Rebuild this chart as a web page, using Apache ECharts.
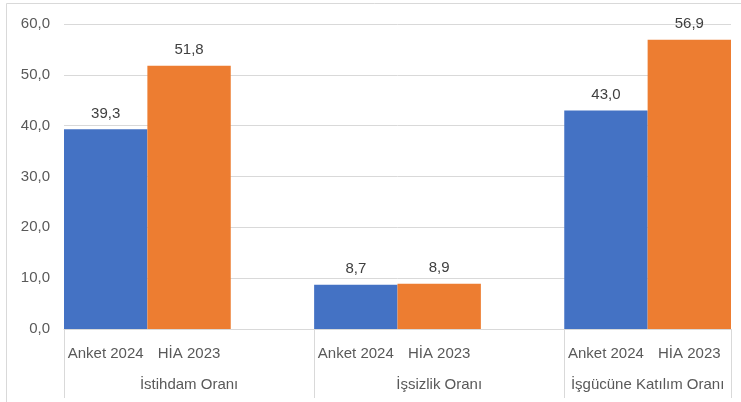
<!DOCTYPE html>
<html>
<head>
<meta charset="utf-8">
<script src="https://cdn.jsdelivr.net/npm/echarts@6/dist/echarts.min.js"></script>
<style>html,body{margin:0;padding:0;background:#fff;}#c{width:741px;height:402px;}</style>
</head>
<body>
<div id="c"></div>
<script>
const groups = ["İstihdam Oranı", "İşsizlik Oranı", "İşgücüne Katılım Oranı"];
const seriesNames = ["Anket 2024", "HİA 2023"];
const anket = [39.3, 8.7, 43.0];
const hia = [51.8, 8.9, 56.9];
const yTicks = [0, 10, 20, 30, 40, 50, 60];

// Build 8-slot category axis: [Anket, HİA, gap] per group (last gap dropped)
const cats = [], anketData = [], hiaData = [];
groups.forEach((g, i) => {
  cats.push(seriesNames[0]); anketData.push(anket[i]); hiaData.push(null);
  cats.push(seriesNames[1]); anketData.push(null); hiaData.push(hia[i]);
  if (i < groups.length - 1) { cats.push(''); anketData.push(null); hiaData.push(null); }
});
// Half-slot axis for group labels and separators
const nHalf = cats.length * 2 + 1;
const halfCats = new Array(nHalf).fill('');
const labelIdx = [3, 9, 14];
const sepIdx = [0, 6, 12, 16];
groups.forEach((g, i) => { halfCats[labelIdx[i]] = g; });

const fmt = v => Number(v).toFixed(1).replace('.', ',');
const FONT = 'Liberation Sans';
const chart = echarts.init(document.getElementById('c'), null, {renderer: 'canvas'});
chart.setOption({
  animation: false,
  backgroundColor: '#fff',
  graphic: [{type: 'rect', shape: {x: 6.5, y: 3.5, width: 800, height: 500}, style: {fill: 'none', stroke: '#d9d9d9', lineWidth: 1}, silent: true, z: -1}],
  grid: {left: 64, right: 10, top: 24, bottom: 73},
  xAxis: [{
    type: 'category', data: cats, boundaryGap: true,
    axisLine: {show: true, lineStyle: {color: '#d9d9d9', width: 1}},
    axisTick: {show: false},
    axisLabel: {interval: 0, margin: 17, color: '#595959', fontFamily: FONT, fontSize: 15}
  }, {
    type: 'category', data: halfCats, boundaryGap: false, position: 'bottom',
    axisLine: {show: false},
    axisTick: {show: true, length: 69, interval: (i) => sepIdx.includes(i), lineStyle: {color: '#d9d9d9', width: 1}},
    axisLabel: {interval: (i) => labelIdx.includes(i), margin: 48, color: '#595959', fontFamily: FONT, fontSize: 15}
  }],
  yAxis: {
    type: 'value', min: yTicks[0], max: yTicks[yTicks.length - 1], interval: 10,
    axisLine: {show: false}, axisTick: {show: false},
    splitLine: {lineStyle: {color: '#d9d9d9', width: 1}},
    axisLabel: {formatter: fmt, margin: 14, color: '#595959', fontFamily: FONT, fontSize: 15}
  },
  series: [{
    name: seriesNames[0], type: 'bar', data: anketData, barGap: '-100%', barCategoryGap: '0%',
    itemStyle: {color: '#4472C4'},
    label: {show: true, position: 'top', distance: 8, formatter: p => fmt(p.value), color: '#404040', fontFamily: FONT, fontSize: 15}
  }, {
    name: seriesNames[1], type: 'bar', data: hiaData, barGap: '-100%', barCategoryGap: '0%',
    itemStyle: {color: '#ED7D31'},
    label: {show: true, position: 'top', distance: 8, formatter: p => fmt(p.value), color: '#404040', fontFamily: FONT, fontSize: 15}
  }]
});
</script>
</body>
</html>
